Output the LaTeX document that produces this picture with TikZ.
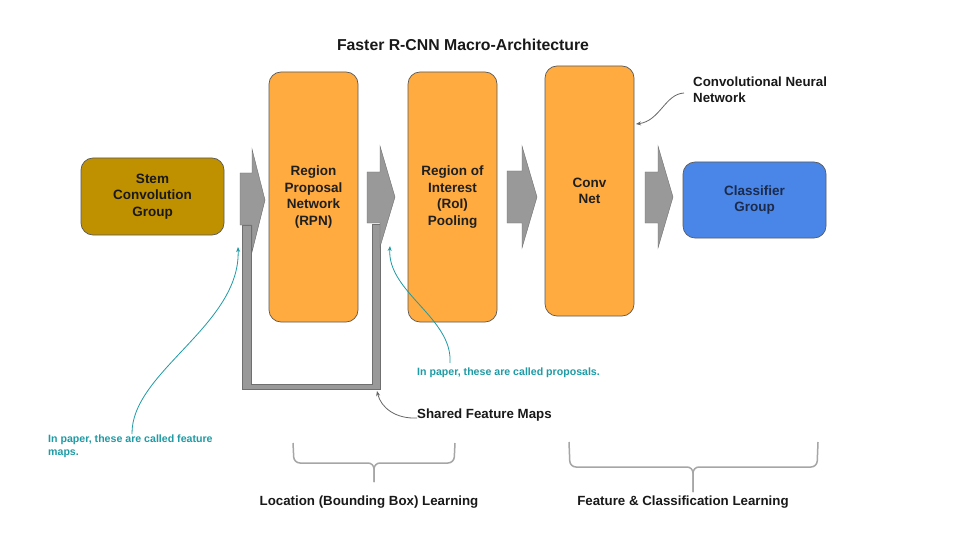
\documentclass[tikz,border=0pt]{standalone}
\usepackage{fontspec}
\setmainfont{Liberation Sans}
\usetikzlibrary{arrows.meta}
\definecolor{boxorange}{HTML}{FFAB40}
\definecolor{stemgold}{HTML}{BF9000}
\definecolor{clsblue}{HTML}{4A86E8}
\definecolor{navytext}{HTML}{1C2B4C}
\definecolor{pipegray}{HTML}{999999}
\definecolor{pipeedge}{HTML}{6F6F6F}
\definecolor{boxedge}{HTML}{5A5A5A}
\definecolor{noteteal}{HTML}{1E9BA5}
\definecolor{bracegray}{HTML}{A6A6A6}
\begin{document}
\begin{tikzpicture}[x=1pt,y=-1pt,
  blk/.style={draw=boxedge, line width=0.7pt, rounded corners=12pt, inner sep=0pt, align=center,
    font=\fontsize{13.5}{16.5}\selectfont\bfseries, text=black!88},
  blockarrow/.style={fill=pipegray, draw=pipeedge, line width=0.4pt},
  teallabel/.style={text=noteteal, font=\fontsize{10.6}{12.5}\selectfont\bfseries, align=left, inner sep=0pt},
  tealcurve/.style={draw=noteteal, line width=0.8pt, -{Stealth[length=5pt,width=4pt]}},
  graycurve/.style={draw=black!60, line width=0.8pt, -{Stealth[length=5pt,width=4pt]}},
  bracestyle/.style={draw=bracegray, line width=1.5pt, rounded corners=6pt},
  plainlabel/.style={font=\fontsize{13.3}{15.5}\selectfont\bfseries, text=black!90, inner sep=0pt}
]
\useasboundingbox[fill=white] (0,0) rectangle (960,540);

% title
\node[font=\fontsize{15.8}{18}\selectfont\bfseries, text=black!90] (title) at (463,45) {Faster R-CNN Macro-Architecture};

% boxes
\node[blk, fill=stemgold, minimum width=143pt, minimum height=77pt, text=black!90] (stem) at (152.5,196.5) {Stem\\Convolution\\Group};
\node[blk, fill=boxorange, minimum width=89pt, minimum height=250pt] (rpn) at (313.5,197) {Region\\Proposal\\Network\\(RPN)};
\node[blk, fill=boxorange, minimum width=89pt, minimum height=250pt] (roi) at (452.5,197) {Region of\\Interest\\(RoI)\\Pooling};
\node[blk, fill=boxorange, minimum width=89pt, minimum height=250pt] (conv) at (589.5,191) {Conv\\Net};
\node[blk, fill=clsblue, minimum width=143pt, minimum height=76pt, text=navytext] (cls) at (754.5,200) {Classifier\\Group};

% shared feature-map pipe
\path[blockarrow] (242,225) -- (242,389) -- (380,389) -- (380,224) -- (372,224) -- (372,384) -- (251,384) -- (251,225) -- cycle;

% block arrows
\path[blockarrow] (240,173) -- (252,173) -- (252,149) -- (265,200) -- (252,252) -- (252,225) -- (240,225) -- cycle;
\path[blockarrow] (367,172) -- (380,172) -- (380,146) -- (395,197) -- (380,247) -- (380,223) -- (367,223) -- cycle;
\path[blockarrow] (507,171) -- (522,171) -- (522,146) -- (537,197) -- (522,248) -- (522,223) -- (507,223) -- cycle;
\path[blockarrow] (645,172) -- (658,172) -- (658,146) -- (673,197) -- (658,248) -- (658,223) -- (645,223) -- cycle;

% CNN annotation
\node[plainlabel, align=left, anchor=north west] (cnnlab) at (693,77) {Convolutional Neural\\Network};
\coordinate (cnntip) at (636,124);
\draw[graycurve] (cnnlab.west |- 0,93) ++(-9,0) .. controls (665,94) and (660,121) .. (cnntip);

% shared feature maps annotation
\node[plainlabel, anchor=west] (sfm) at (417,415) {Shared Feature Maps};
\coordinate (sfmtip) at (377,391);
\draw[graycurve] (sfm.west) ++(0,3) .. controls (396,419) and (381,408) .. (sfmtip);

% teal notes
\node[teallabel, anchor=north west] (fmnote) at (48,435) {In paper, these are called feature\\maps.};
\coordinate (fmtip) at (238,247);
\draw[tealcurve] (132,434) .. controls (131,372) and (241,325) .. (fmtip);

\node[teallabel, anchor=north west] (prnote) at (417,368) {In paper, these are called proposals.};
\coordinate (prtip) at (390,246);
\draw[tealcurve] (450,363) .. controls (453,318) and (387,292) .. (prtip);

% braces
\draw[bracestyle] (293,443) -- (294,463) -- (374,463) -- (374,482);
\draw[bracestyle] (455,443) -- (454,463) -- (374,463) -- (374,482);
\draw[bracestyle] (569,442) -- (570,467) -- (693,467) -- (693,492);
\draw[bracestyle] (818,442) -- (817,467) -- (693,467) -- (693,492);

\node[plainlabel] (loclab) at (369,502) {Location (Bounding Box) Learning};
\node[plainlabel] (featlab) at (683,502) {Feature \& Classification Learning};
\end{tikzpicture}
\end{document}
